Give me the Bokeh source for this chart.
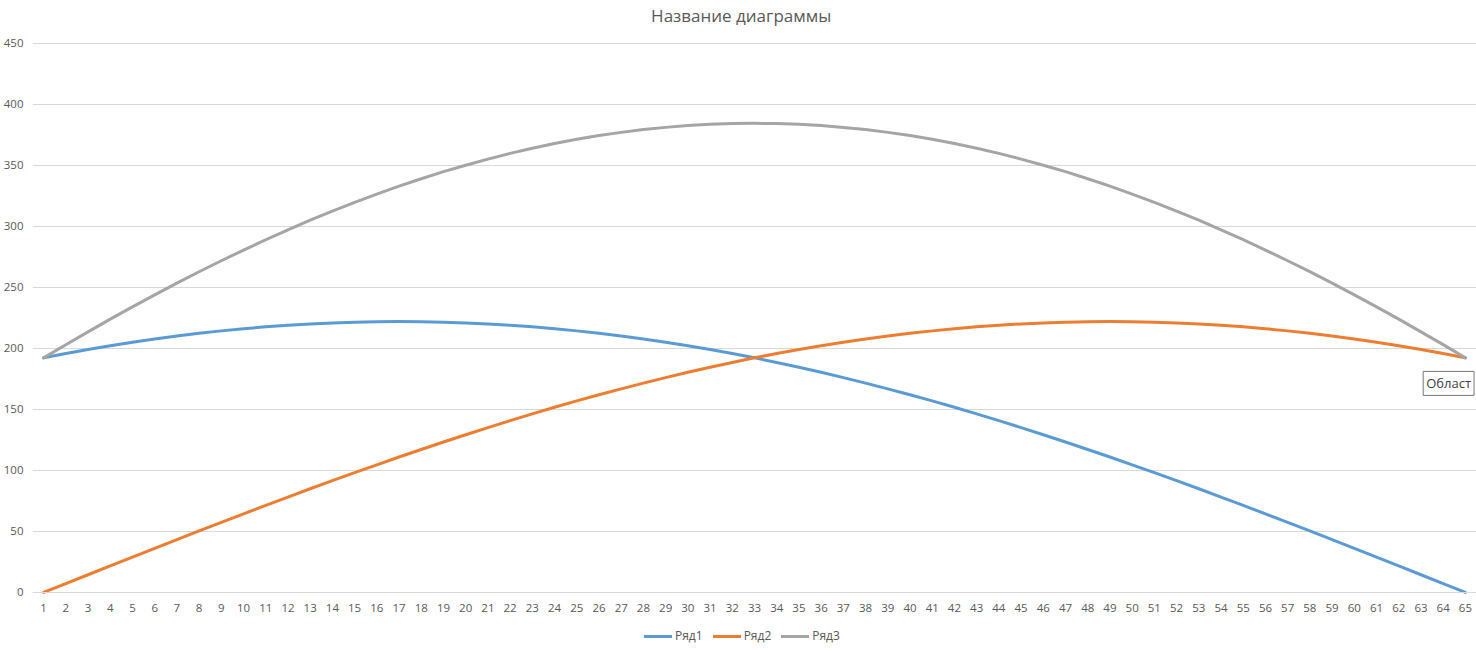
from bokeh.plotting import figure
from bokeh.models import Range1d, FixedTicker, Legend, LegendItem, Label
from bokeh.embed import file_html
from bokeh.resources import INLINE

# categories on the x axis
categories = list(range(1, 66))
y_ticks = [0, 50, 100, 150, 200, 250, 300, 350, 400, 450]

series_names = ["Ряд1", "Ряд2", "Ряд3"]
chart_title = "Название диаграммы"

ryad1 = [192.3, 195.8, 199.1, 202.2, 205.1, 207.8, 210.2, 212.4, 214.4, 216.2,
         217.7, 219.0, 220.1, 220.9, 221.5, 221.9, 222.0, 221.9, 221.5, 220.9,
         220.1, 219.0, 217.7, 216.2, 214.4, 212.4, 210.2, 207.8, 205.1, 202.2,
         199.1, 195.8, 192.3, 188.5, 184.6, 180.5, 176.1, 171.6, 166.9, 162.0,
         157.0, 151.8, 146.4, 140.8, 135.1, 129.3, 123.3, 117.2, 111.0, 104.6,
         98.2, 91.6, 85.0, 78.2, 71.4, 64.4, 57.5, 50.4, 43.3, 36.2,
         29.0, 21.8, 14.5, 7.3, 0.0]

ryad2 = [0.0, 7.3, 14.5, 21.8, 29.0, 36.2, 43.3, 50.4, 57.5, 64.4,
         71.4, 78.2, 85.0, 91.6, 98.2, 104.6, 111.0, 117.2, 123.3, 129.3,
         135.1, 140.8, 146.4, 151.8, 157.0, 162.0, 166.9, 171.6, 176.1, 180.5,
         184.6, 188.5, 192.3, 195.8, 199.1, 202.2, 205.1, 207.8, 210.2, 212.4,
         214.4, 216.2, 217.7, 219.0, 220.1, 220.9, 221.5, 221.9, 222.0, 221.9,
         221.5, 220.9, 220.1, 219.0, 217.7, 216.2, 214.4, 212.4, 210.2, 207.8,
         205.1, 202.2, 199.1, 195.8, 192.3]

ryad3 = [192.3, 203.1, 213.6, 224.0, 234.1, 243.9, 253.5, 262.9, 271.9, 280.6,
         289.1, 297.2, 305.1, 312.6, 319.7, 326.5, 333.0, 339.1, 344.9, 350.2,
         355.2, 359.9, 364.1, 368.0, 371.4, 374.5, 377.1, 379.4, 381.2, 382.7,
         383.7, 384.3, 384.5, 384.3, 383.7, 382.7, 381.2, 379.4, 377.1, 374.5,
         371.4, 368.0, 364.1, 359.9, 355.2, 350.2, 344.9, 339.1, 333.0, 326.5,
         319.7, 312.6, 305.1, 297.2, 289.1, 280.6, 271.9, 262.9, 253.5, 243.9,
         234.1, 224.0, 213.6, 203.1, 192.3]

colors = ["#5B9BD5", "#ED7D31", "#A5A5A5"]
text_gray = "#595959"
grid_gray = "#d9d9d9"

# the frame fills the whole height; title and legend sit inside it,
# above 450 and below 0
p = figure(width=1476, height=651, output_backend="svg", toolbar_location=None,
           x_range=Range1d(0.5, 65.5), y_range=Range1d(-48.4, 485.2),
           min_border_left=32, min_border_right=0, min_border_top=0,
           min_border_bottom=0)

p.outline_line_color = None
p.background_fill_color = "white"
p.border_fill_color = "white"

p.xgrid.grid_line_color = None
p.ygrid.grid_line_color = grid_gray
p.ygrid.ticker = FixedTicker(ticks=y_ticks)

p.xaxis.fixed_location = 0
p.xaxis.ticker = FixedTicker(ticks=categories)
p.xaxis.axis_line_color = grid_gray
p.xaxis.major_tick_out = 0
p.xaxis.major_tick_in = 0
p.xaxis.minor_tick_out = 0
p.xaxis.minor_tick_in = 0
p.xaxis.major_label_standoff = 12
p.xaxis.major_label_text_font = "Open Sans"
p.xaxis.major_label_text_font_size = "11.5px"
p.xaxis.major_label_text_color = text_gray

p.yaxis.ticker = FixedTicker(ticks=y_ticks)
p.yaxis.axis_line_color = None
p.yaxis.major_tick_out = 0
p.yaxis.major_tick_in = 0
p.yaxis.minor_tick_out = 0
p.yaxis.minor_tick_in = 0
p.yaxis.major_label_standoff = 9
p.yaxis.axis_label_standoff = 0
p.yaxis.major_label_text_font = "Open Sans"
p.yaxis.major_label_text_font_size = "11.5px"
p.yaxis.major_label_text_color = text_gray

title = Label(x=32.4, y=473, text=chart_title, text_align="center",
              text_baseline="middle", text_font="Open Sans",
              text_font_size="17px", text_color=text_gray)
p.add_layout(title)

items = []
for name, vals, col in zip(series_names, [ryad1, ryad2, ryad3], colors):
    r = p.line(categories, vals, line_color=col, line_width=3,
               line_join="round", line_cap="round")
    items.append(LegendItem(label=name, renderers=[r]))

legend = Legend(items=items, orientation="horizontal", location=(612, 7),
                glyph_width=28, glyph_height=14, label_height=14,
                label_standoff=3, spacing=10, padding=0, margin=0,
                border_line_color=None, background_fill_alpha=0,
                label_text_font="Open Sans", label_text_font_size="12px",
                label_text_color=text_gray)
p.add_layout(legend)

# the hover hint Excel was showing at the right edge
hint = Label(x=63.1, y=161.5, text="Област", text_align="left",
             text_baseline="bottom", text_font="Open Sans",
             text_font_size="13px", text_color="#404040", padding=3,
             background_fill_color="white", border_line_color="#767676")
p.add_layout(hint)

open("out.html", "w").write(file_html(p, INLINE))
